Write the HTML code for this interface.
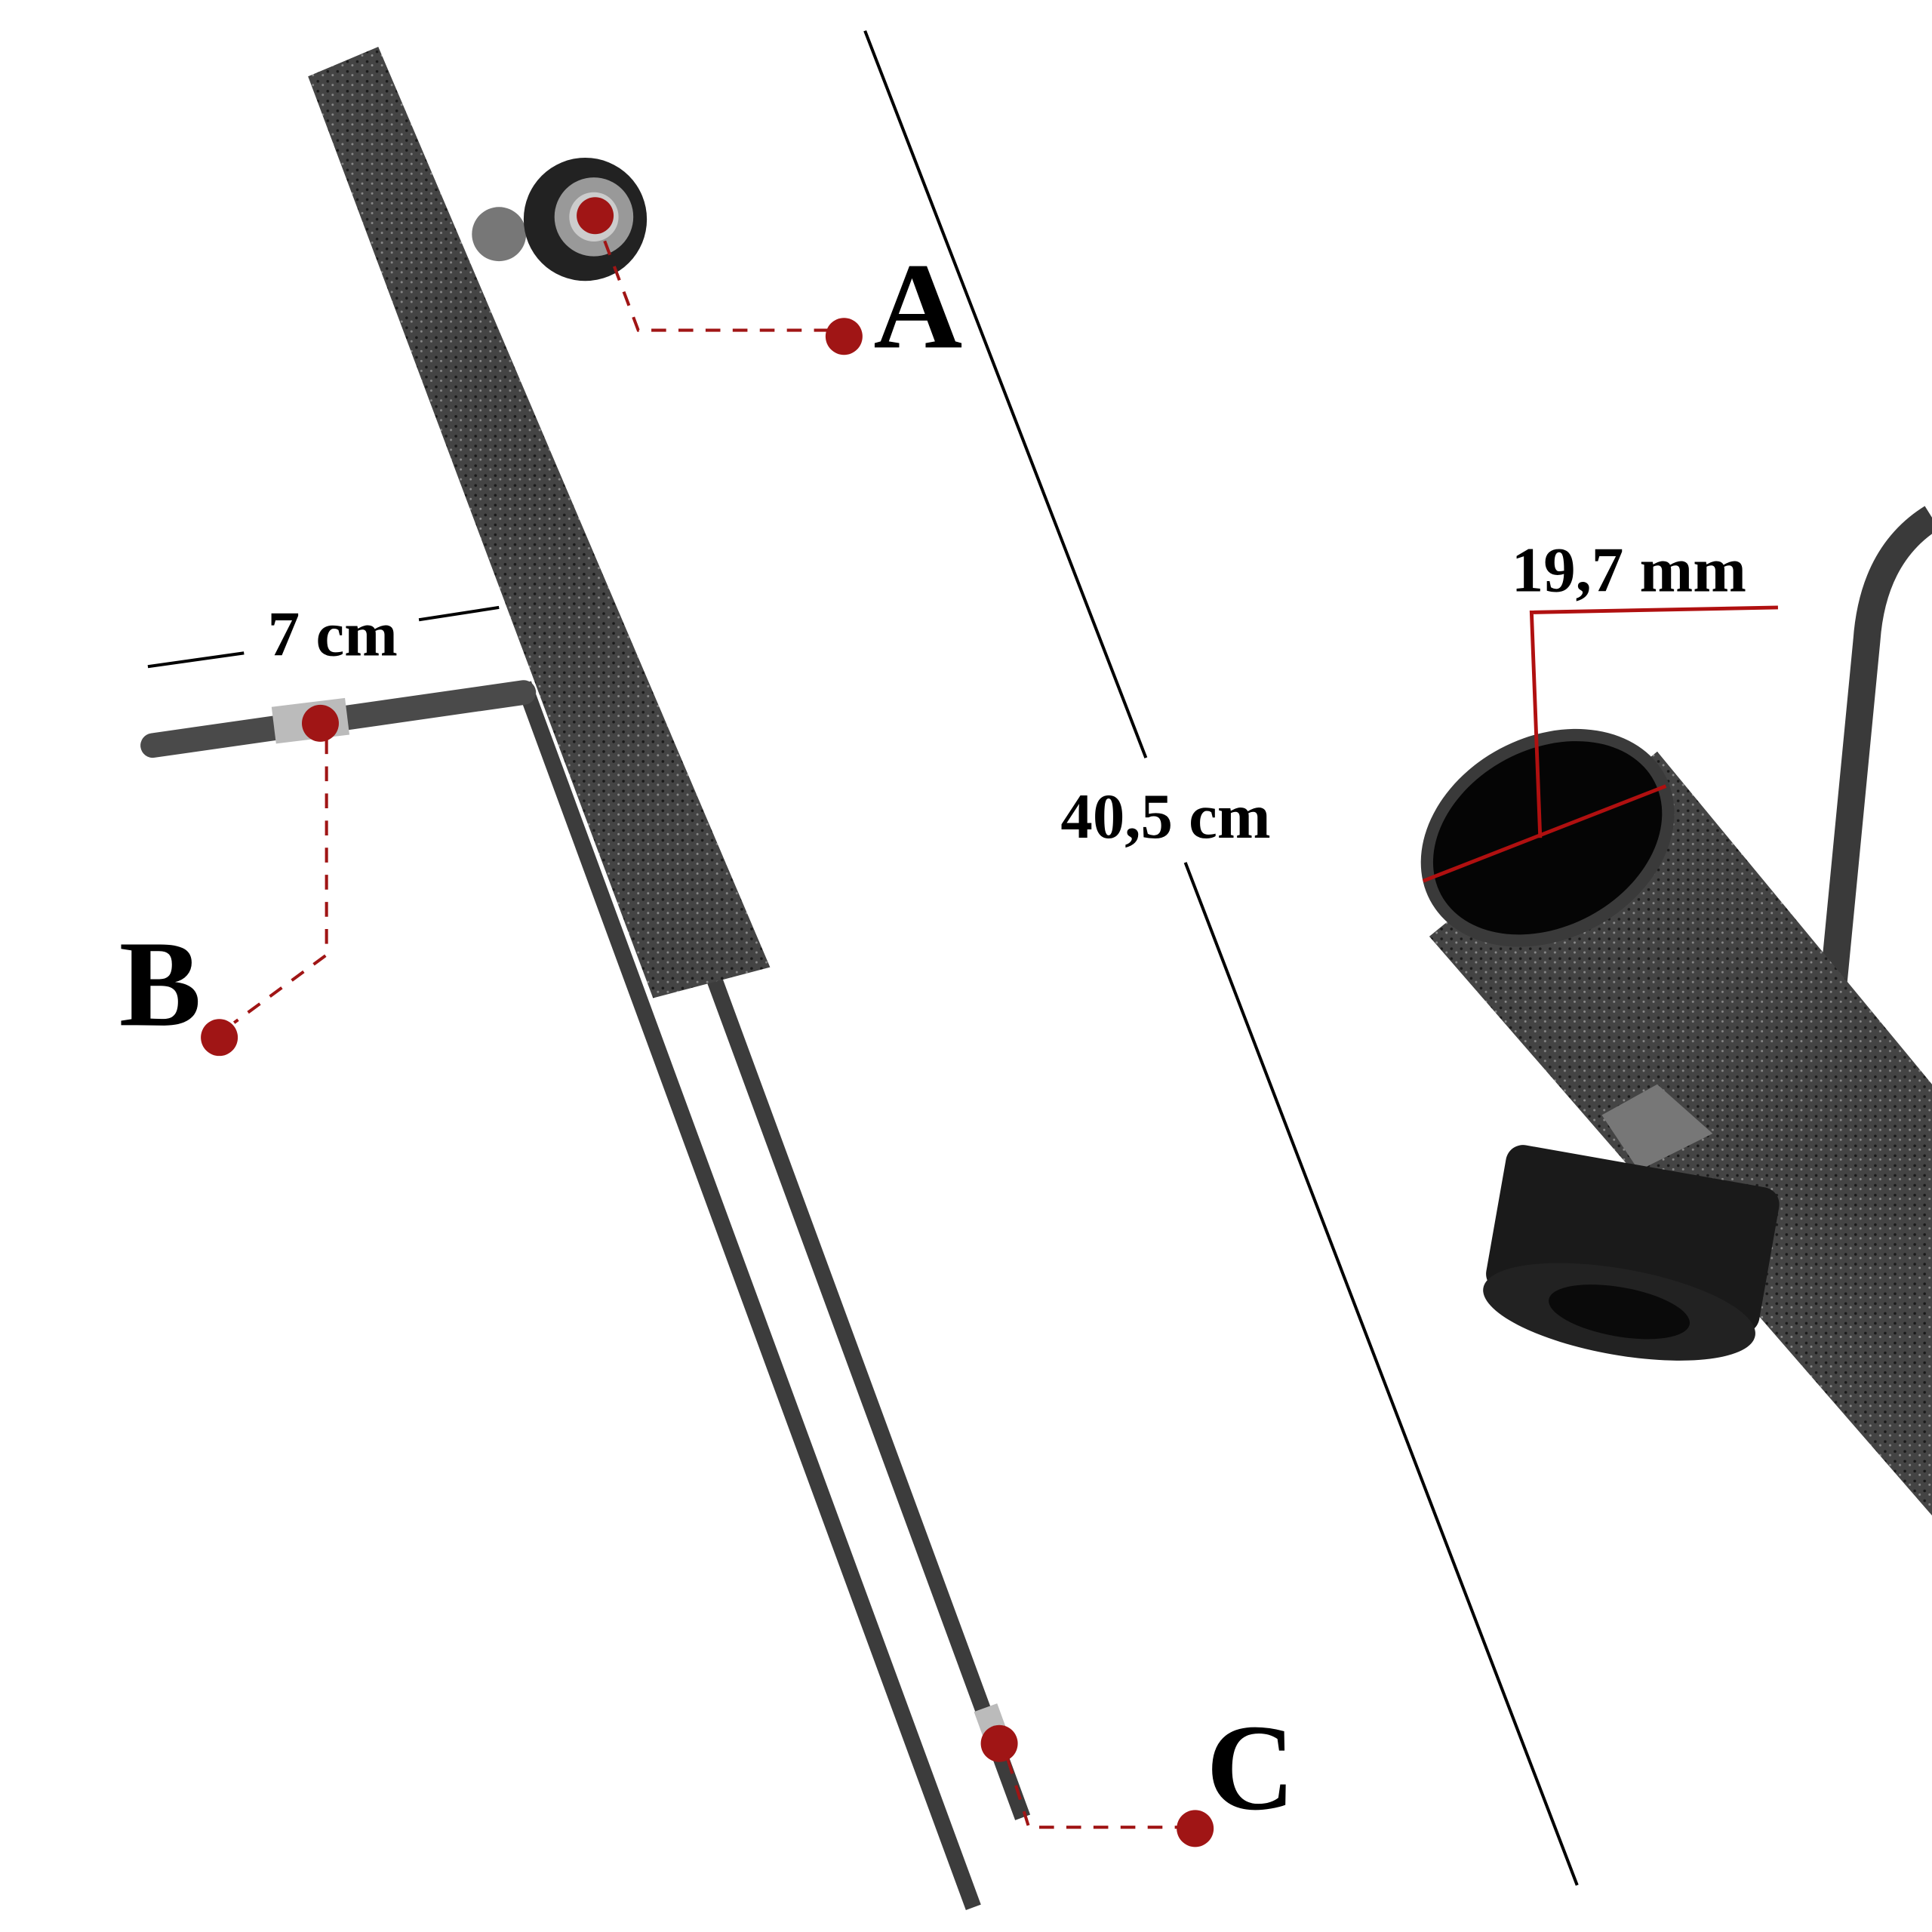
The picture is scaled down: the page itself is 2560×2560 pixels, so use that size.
<!DOCTYPE html>
<html><head><style>html,body{margin:0;padding:0;background:#fff}svg{display:block}</style></head><body>
<svg width="2560" height="2560" viewBox="0 0 1568 1568" xmlns="http://www.w3.org/2000/svg">
<defs>
<pattern id="sp" width="8" height="8" patternUnits="userSpaceOnUse">
<rect width="8" height="8" fill="#444"/><circle cx="2" cy="2" r="1.1" fill="#1a1a1a"/><circle cx="6" cy="5" r="0.9" fill="#888"/>
</pattern>
</defs>
<rect width="1568" height="1568" fill="#fff"/>
<line x1="425" y1="555" x2="790" y2="1548" stroke="#3c3c3c" stroke-width="13"/>
<line x1="578" y1="790" x2="830" y2="1475" stroke="#3c3c3c" stroke-width="13"/>
<path d="M124 605 L425 562" stroke="#4a4a4a" stroke-width="20" stroke-linecap="round"/>
<rect x="222" y="570" width="60" height="30" fill="#bbb" transform="rotate(-7 252 585)"/>
<polygon points="250,62 307,38 625,785 530,810" fill="url(#sp)"/>
<circle cx="405" cy="190" r="22" fill="#777"/>
<circle cx="475" cy="178" r="50" fill="#222"/>
<circle cx="482" cy="176" r="32" fill="#999"/>
<circle cx="482" cy="176" r="20" fill="#ccc"/>
<rect x="795" y="1385" width="20" height="28" fill="#bbb" transform="rotate(-20 805 1400)"/>
<g stroke="#000" stroke-width="2.5" fill="none">
<line x1="702" y1="25" x2="930" y2="615"/>
<line x1="962" y1="700" x2="1280" y2="1530"/>
<line x1="120" y1="541" x2="198" y2="530"/>
<line x1="340" y1="503" x2="405" y2="493"/>
</g>
<g font-family="Liberation Serif, serif" font-weight="bold" fill="#000">
<text x="946" y="680" font-size="52" text-anchor="middle">40,5 cm</text>
<text x="270" y="532" font-size="52" text-anchor="middle">7 cm</text>
<text x="745" y="282" font-size="100" text-anchor="middle">A</text>
<text x="130" y="832" font-size="100" text-anchor="middle">B</text>
<text x="1015" y="1468" font-size="100" text-anchor="middle">C</text>
<text x="1322" y="480" font-size="52" text-anchor="middle">19,7 mm</text>
</g>
<g stroke="#a01515" stroke-width="2.5" fill="none" stroke-dasharray="12 10">
<polyline points="483,175 518,268 672,268"/>
<polyline points="265,600 265,775 190,830"/>
<polyline points="818,1428 835,1483 958,1483"/>
</g>
<g fill="#a01515">
<circle cx="483" cy="175" r="15"/>
<circle cx="685" cy="273" r="15"/>
<circle cx="260" cy="587" r="15"/>
<circle cx="178" cy="842" r="15"/>
<circle cx="811" cy="1415" r="15"/>
<circle cx="970" cy="1484" r="15"/>
</g>
<path d="M1568 420 Q1520 450 1515 520 L1485 830" stroke="#3a3a3a" stroke-width="22" fill="none"/>
<polygon points="1160,760 1345,610 1568,880 1568,1230" fill="url(#sp)"/>
<ellipse cx="1256" cy="680" rx="108" ry="82" transform="rotate(-28 1256 680)" fill="#3a3a3a"/>
<ellipse cx="1256" cy="680" rx="98" ry="72" transform="rotate(-28 1256 680)" fill="#050505"/>
<polygon points="1300,905 1345,880 1390,920 1330,950" fill="#777"/>
<g transform="rotate(10 1320 1020)">
<rect x="1210" y="945" width="225" height="120" rx="14" fill="#1a1a1a"/>
<ellipse cx="1322" cy="1065" rx="112" ry="35" fill="#222"/>
<ellipse cx="1322" cy="1065" rx="58" ry="20" fill="#0a0a0a"/>
</g>
<g stroke="#b01010" stroke-width="3" fill="none">
<polyline points="1443,493 1243,497 1250,680"/>
<line x1="1155" y1="715" x2="1352" y2="638"/>
</g>
</svg>
</body></html>
